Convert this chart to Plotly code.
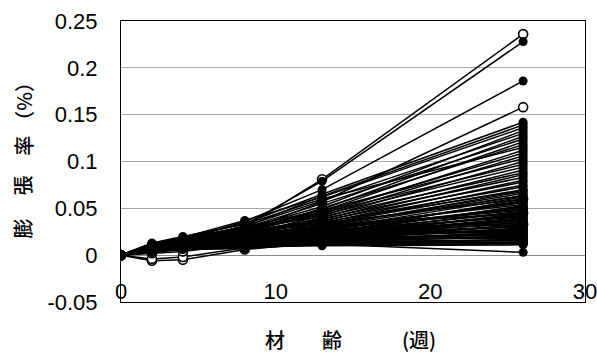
import plotly.graph_objects as go

# Specimen age in weeks at each measurement
weeks = [0, 2, 4, 8, 13, 26]

# Expansion ratio (%) at weeks 2, 4, 8, 13, 26 (week 0 is always 0)
filled_series = [
    [0.006, 0.012, 0.032, 0.079, 0.228],
    [0.008, 0.016, 0.036, 0.070, 0.186],
    [0.010, 0.018, 0.034, 0.065, 0.142],
    [0.007, 0.014, 0.030, 0.063, 0.139],
    [0.012, 0.019, 0.037, 0.062, 0.136],
    [0.009, 0.015, 0.028, 0.052, 0.133],
    [0.011, 0.017, 0.031, 0.058, 0.130],
    [0.006, 0.013, 0.026, 0.049, 0.127],
    [0.008, 0.016, 0.029, 0.055, 0.124],
    [0.010, 0.014, 0.027, 0.047, 0.121],
    [0.005, 0.012, 0.024, 0.050, 0.118],
    [0.013, 0.020, 0.033, 0.060, 0.115],
    [0.007, 0.011, 0.025, 0.044, 0.112],
    [0.009, 0.015, 0.028, 0.046, 0.109],
    [0.006, 0.013, 0.022, 0.042, 0.106],
    [0.011, 0.018, 0.030, 0.048, 0.103],
    [0.004, 0.010, 0.021, 0.040, 0.100],
    [0.008, 0.014, 0.026, 0.045, 0.097],
    [0.010, 0.016, 0.027, 0.043, 0.094],
    [0.005, 0.011, 0.020, 0.038, 0.091],
    [0.012, 0.017, 0.029, 0.041, 0.088],
    [0.007, 0.012, 0.023, 0.036, 0.086],
    [0.009, 0.013, 0.024, 0.039, 0.083],
    [0.006, 0.010, 0.019, 0.034, 0.080],
    [0.011, 0.015, 0.026, 0.037, 0.078],
    [0.004, 0.009, 0.018, 0.032, 0.075],
    [0.008, 0.014, 0.022, 0.035, 0.073],
    [0.010, 0.016, 0.025, 0.033, 0.070],
    [0.005, 0.011, 0.017, 0.030, 0.068],
    [0.007, 0.012, 0.021, 0.031, 0.066],
    [0.009, 0.013, 0.020, 0.029, 0.064],
    [0.006, 0.010, 0.016, 0.027, 0.062],
    [0.012, 0.017, 0.024, 0.034, 0.060],
    [0.004, 0.008, 0.015, 0.026, 0.058],
    [0.008, 0.012, 0.019, 0.028, 0.056],
    [0.010, 0.014, 0.021, 0.030, 0.054],
    [0.005, 0.009, 0.014, 0.024, 0.052],
    [0.007, 0.011, 0.018, 0.025, 0.050],
    [0.009, 0.015, 0.022, 0.029, 0.048],
    [0.006, 0.010, 0.016, 0.023, 0.047],
    [0.011, 0.016, 0.023, 0.031, 0.045],
    [0.003, 0.007, 0.013, 0.021, 0.044],
    [0.008, 0.012, 0.017, 0.024, 0.042],
    [0.010, 0.013, 0.020, 0.026, 0.041],
    [0.005, 0.009, 0.014, 0.020, 0.039],
    [0.007, 0.011, 0.016, 0.022, 0.038],
    [0.009, 0.014, 0.019, 0.025, 0.036],
    [0.006, 0.010, 0.015, 0.019, 0.035],
    [0.012, 0.016, 0.022, 0.028, 0.034],
    [0.004, 0.008, 0.012, 0.018, 0.032],
    [0.008, 0.012, 0.017, 0.021, 0.031],
    [0.010, 0.014, 0.018, 0.023, 0.030],
    [0.005, 0.009, 0.013, 0.017, 0.028],
    [0.007, 0.010, 0.015, 0.020, 0.027],
    [0.009, 0.013, 0.018, 0.022, 0.026],
    [0.006, 0.009, 0.012, 0.016, 0.025],
    [0.011, 0.015, 0.020, 0.024, 0.024],
    [0.003, 0.007, 0.011, 0.015, 0.023],
    [0.008, 0.011, 0.014, 0.018, 0.022],
    [0.010, 0.013, 0.016, 0.019, 0.021],
    [0.005, 0.008, 0.010, 0.014, 0.020],
    [0.007, 0.010, 0.013, 0.016, 0.019],
    [0.009, 0.012, 0.015, 0.017, 0.018],
    [0.004, 0.007, 0.009, 0.013, 0.017],
    [0.006, 0.009, 0.011, 0.014, 0.016],
    [0.008, 0.011, 0.013, 0.015, 0.015],
    [0.005, 0.008, 0.010, 0.012, 0.014],
    [0.007, 0.009, 0.011, 0.013, 0.013],
    [0.003, 0.006, 0.008, 0.011, 0.012],
    [0.006, 0.008, 0.009, 0.010, 0.011],
    [0.004, 0.006, 0.007, 0.012, 0.003],
    [0.009, 0.014, 0.021, 0.027, 0.057],
    [0.006, 0.011, 0.017, 0.022, 0.053],
    [0.011, 0.015, 0.022, 0.029, 0.049],
    [0.007, 0.012, 0.018, 0.024, 0.046],
    [0.010, 0.013, 0.017, 0.022, 0.043],
    [0.005, 0.010, 0.015, 0.021, 0.040],
    [0.008, 0.012, 0.016, 0.020, 0.037],
    [0.012, 0.015, 0.019, 0.023, 0.033],
    [0.006, 0.009, 0.014, 0.018, 0.029],
    [0.009, 0.012, 0.015, 0.019, 0.026],
    [0.004, 0.008, 0.011, 0.016, 0.024],
    [0.007, 0.010, 0.012, 0.015, 0.021],
    [0.010, 0.012, 0.014, 0.017, 0.019],
    [0.005, 0.007, 0.010, 0.013, 0.016],
    [0.008, 0.010, 0.012, 0.014, 0.013],
    [0.011, 0.016, 0.024, 0.035, 0.069],
    [0.007, 0.013, 0.020, 0.032, 0.063],
    [0.009, 0.012, 0.019, 0.027, 0.051],
    [0.006, 0.011, 0.014, 0.019, 0.031],
]

open_series = [
    [0.004, 0.010, 0.030, 0.081, 0.236],
    [0.003, 0.008, 0.025, 0.057, 0.158],
    [-0.006, -0.005, 0.006, 0.014, 0.033],
    [-0.004, -0.002, 0.008, 0.018, 0.045],
    [0.002, 0.004, 0.012, 0.022, 0.060],
]

y_ticks = [-0.05, 0, 0.05, 0.1, 0.15, 0.2, 0.25]
y_tick_text = ["-0.05", "0", "0.05", "0.1", "0.15", "0.2", "0.25"]
x_ticks = [0, 10, 20, 30]
x_tick_text = ["0", "10", "20", "30"]

fig = go.Figure()

# Open-marker specimens first, so filled markers sit on top where they overlap
for vals in open_series:
    fig.add_trace(go.Scatter(
        x=weeks, y=[0] + vals, mode="lines+markers",
        line=dict(color="black", width=1.5),
        marker=dict(symbol="circle", size=9, color="white",
                    line=dict(color="black", width=1.6)),
        hoverinfo="skip", showlegend=False,
    ))

for vals in filled_series:
    fig.add_trace(go.Scatter(
        x=weeks, y=[0] + vals, mode="lines+markers",
        line=dict(color="black", width=1.5),
        marker=dict(symbol="circle", size=9, color="black"),
        hoverinfo="skip", showlegend=False,
    ))

tick_font = dict(family="Liberation Sans, Arial, sans-serif", size=22, color="black")
cjk_font = dict(family="Noto Sans CJK JP", size=20, color="black", weight=500)

fig.update_layout(
    width=597, height=353,
    margin=dict(l=121, r=12, t=21, b=51),
    paper_bgcolor="white", plot_bgcolor="white",
    showlegend=False,
    xaxis=dict(
        range=[0, 30], tickvals=x_ticks, ticktext=x_tick_text,
        showgrid=False, zeroline=False, automargin=False,
        showline=True, linecolor="black", linewidth=1, mirror=True,
        ticks="", ticklabelposition="inside", ticklabeloverflow="allow",
        tickfont=tick_font,
    ),
    yaxis=dict(
        range=[-0.05, 0.25], tickvals=y_ticks, ticktext=y_tick_text,
        showgrid=True, gridcolor="#a8a8a8", gridwidth=1, automargin=False,
        zeroline=True, zerolinecolor="#8a8a8a", zerolinewidth=1,
        showline=True, linecolor="black", linewidth=1, mirror=True,
        ticks="", ticklabelstandoff=18,
        tickfont=tick_font,
    ),
)

# Vertical y-axis title, read bottom to top
y_title_parts = [("膨", 0.260), ("張", 0.413), ("率", 0.555), ("（%）", 0.715)]
for text, ypos in y_title_parts:
    fig.add_annotation(text=text, xref="paper", yref="paper",
                       x=-0.212, y=ypos, xanchor="center", yanchor="middle",
                       textangle=-90, showarrow=False, font=cjk_font)

# Spaced x-axis title
x_title_parts = [("材", 0.332), ("齢", 0.455), ("(週)", 0.642)]
for text, xpos in x_title_parts:
    fig.add_annotation(text=text, xref="paper", yref="paper",
                       x=xpos, y=-0.135, xanchor="center", yanchor="middle",
                       showarrow=False, font=cjk_font)

fig.write_html("out.html")
